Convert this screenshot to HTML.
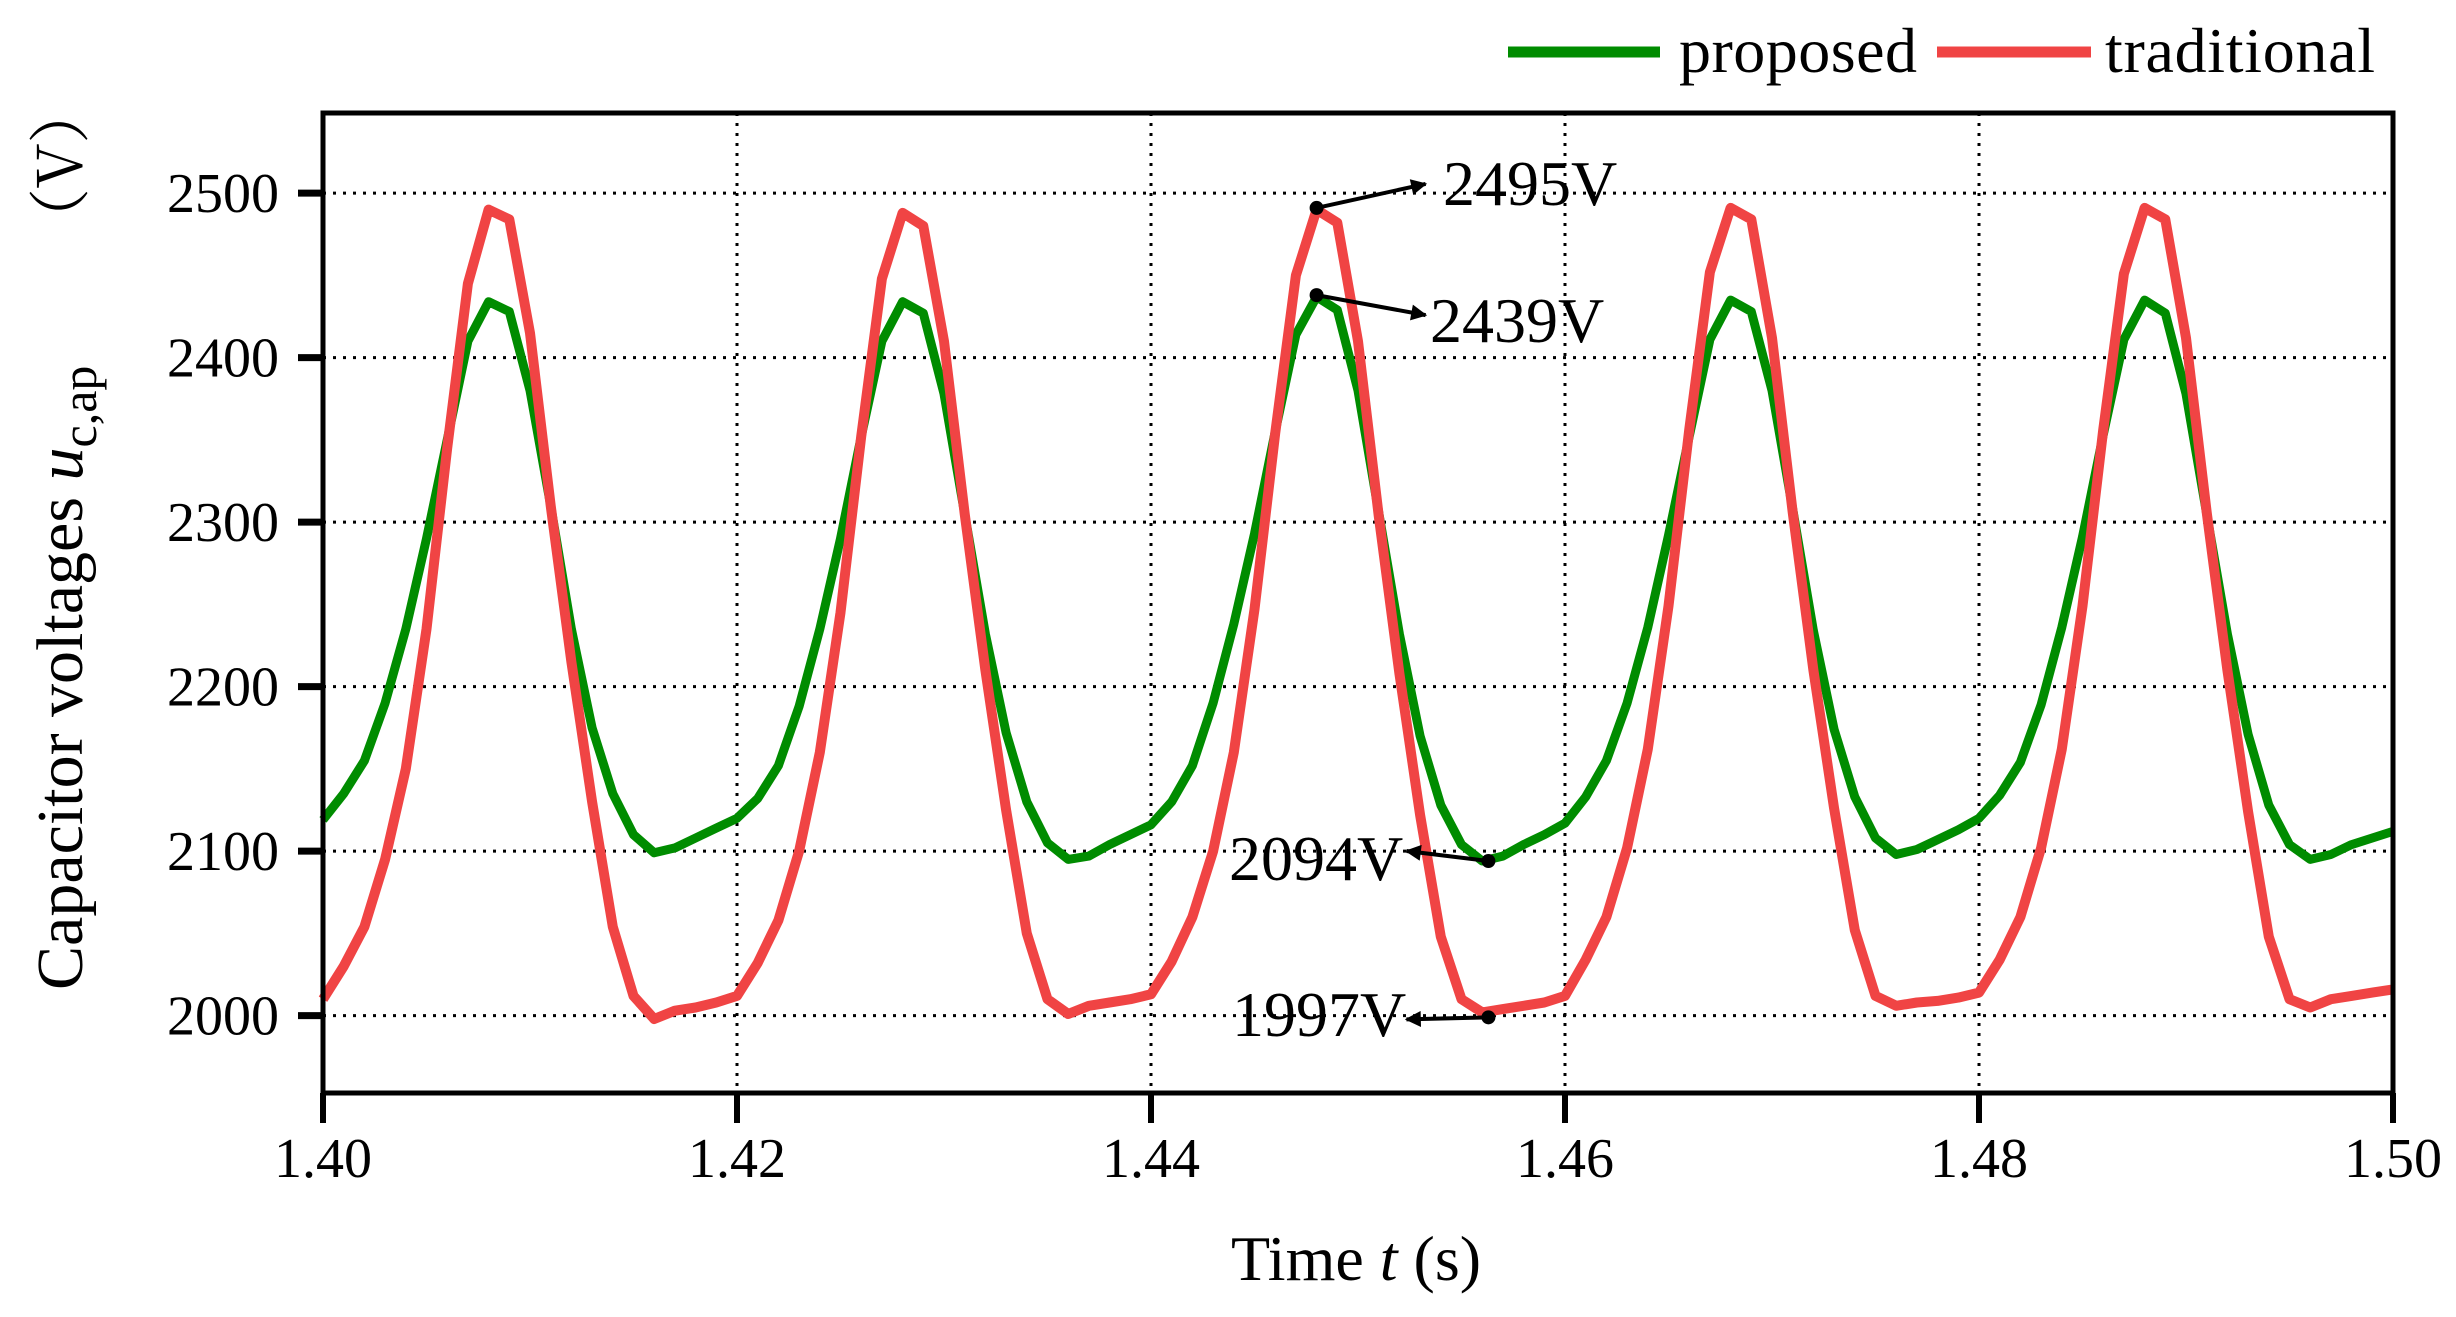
<!DOCTYPE html>
<html><head><meta charset="utf-8">
<style>
html,body{margin:0;padding:0;background:#fff;}
svg{display:block;font-family:"Liberation Serif","Noto Serif CJK SC",serif;}
</style></head>
<body>
<svg id="chart" width="2456" height="1317" viewBox="0 0 2456 1317" xmlns="http://www.w3.org/2000/svg">
<defs>
<marker id="ah" viewBox="0 0 10 10" refX="9" refY="5" markerWidth="5" markerHeight="4" orient="auto" markerUnits="strokeWidth"><path d="M0,0 L10,5 L0,10 z" fill="#000"/></marker>
</defs>
<g id="grid"></g>
<g id="series"></g>
<g id="axes"></g>
<g id="annot"></g>
<text x="1356" y="1280" font-size="64" text-anchor="middle">Time <tspan font-style="italic">t</tspan> (s)</text>
<text transform="translate(82,990) rotate(-90)" font-size="66">Capacitor voltages <tspan font-style="italic">u</tspan><tspan font-size="50" dy="14">c,ap</tspan></text>
<text transform="translate(82,250) rotate(-90)" font-size="62" font-family="Noto Serif CJK SC, serif">（V）</text>
<g>
<line x1="1508" y1="52" x2="1660" y2="52" stroke="#008c00" stroke-width="11"/>
<text x="1679" y="72" font-size="64" textLength="238">proposed</text>
<line x1="1937" y1="52" x2="2091" y2="52" stroke="#f04444" stroke-width="11"/>
<text x="2105" y="72" font-size="64" textLength="270">traditional</text>
</g>
</svg>
<script>
const xTicks = [1.40, 1.42, 1.44, 1.46, 1.48, 1.50];
const xTickLabels = ["1.40", "1.42", "1.44", "1.46", "1.48", "1.50"];
const yTicks = [2000, 2100, 2200, 2300, 2400, 2500];
const yTickLabels = ["2000", "2100", "2200", "2300", "2400", "2500"];
const tStart = 1.40;
const tStep = 0.001;
const proposed = [
2119,2135,2155,2190,2235,2290,2350,2410,2434,2428,2380,2310,2235,2175,2135,2110,2099,2102,2108,2114,
2120,2132,2152,2188,2235,2290,2352,2410,2434,2427,2378,2305,2232,2172,2130,2105,2095,2097,2104,2110,
2116,2130,2152,2190,2238,2293,2355,2414,2437,2429,2380,2306,2232,2170,2128,2104,2094,2097,2104,2110,
2117,2133,2155,2190,2236,2292,2352,2411,2435,2428,2380,2308,2234,2174,2133,2108,2098,2101,2107,2113,
2120,2134,2154,2189,2236,2291,2353,2411,2435,2427,2378,2305,2232,2171,2128,2104,2095,2098,2104,2108,2112];
const traditional = [
2010,2030,2054,2095,2150,2235,2345,2445,2490,2484,2415,2310,2215,2130,2054,2012,1998,2003,2005,2008,
2012,2032,2058,2100,2160,2245,2352,2448,2488,2480,2410,2305,2210,2125,2050,2010,2001,2006,2008,2010,
2013,2033,2060,2100,2160,2247,2354,2450,2490,2482,2410,2304,2208,2122,2048,2010,2002,2004,2006,2008,
2012,2034,2060,2102,2162,2249,2356,2452,2491,2484,2412,2306,2210,2126,2052,2012,2006,2008,2009,2011,
2014,2034,2060,2102,2162,2249,2356,2451,2491,2484,2412,2306,2210,2124,2048,2010,2005,2010,2012,2014,2016];
const annotations = [
  {t:1.448, v:2491, label:"2495V"},
  {t:1.448, v:2438, label:"2439V"},
  {t:1.4563, v:2094, label:"2094V"},
  {t:1.4563, v:1999, label:"1997V"}
];
const annOffsets = [[109,-24,1443,205],[109,20,1430,342],[-82,-10,1229,880],[-82,2,1232,1036]];

const PL=323, PR=2393, PT=113, PB=1093;
const X0=1.40, X1=1.50, Y0=1953, Y1=2548.7;
function sx(t){return PL+(t-X0)/(X1-X0)*(PR-PL);}
function sy(v){return PB-(v-Y0)/(Y1-Y0)*(PB-PT);}
const NS="http://www.w3.org/2000/svg";
function mk(tag,parent,attrs){const e=document.createElementNS(NS,tag);for(const k in attrs)e.setAttribute(k,attrs[k]);parent.appendChild(e);return e;}
const grid=document.getElementById('grid'), axes=document.getElementById('axes'), series=document.getElementById('series'), annot=document.getElementById('annot');

xTicks.forEach((t,i)=>{
  if(i>0&&i<xTicks.length-1){
    const g=mk('line',grid,{x1:sx(t),x2:sx(t),y1:PT,y2:PB,stroke:'#000','stroke-width':3,'stroke-dasharray':'3 7'});
    
    
  }
  const tk=mk('line',axes,{x1:sx(t),x2:sx(t),y1:PB,y2:PB+30,stroke:'#000','stroke-width':6});
  
  
  const lb=mk('text',axes,{x:sx(t),y:1177,'font-size':56,'text-anchor':'middle'});
  lb.textContent=xTickLabels[i];
  
  
});
yTicks.forEach((v,i)=>{
  const g=mk('line',grid,{x1:PL,x2:PR,y1:sy(v),y2:sy(v),stroke:'#000','stroke-width':3,'stroke-dasharray':'3 7'});
  
  
  const tk=mk('line',axes,{x1:PL-25,x2:PL,y1:sy(v),y2:sy(v),stroke:'#000','stroke-width':7});
  
  
  const lb=mk('text',axes,{x:279,y:sy(v)+19,'font-size':56,'text-anchor':'end'});
  lb.textContent=yTickLabels[i];
  
  
});
const frame=mk('rect',axes,{x:PL,y:PT,width:PR-PL,height:PB-PT,fill:'none',stroke:'#000','stroke-width':5});



function drawSeries(vals,color,w,name){
  const pts=vals.map((v,i)=>sx(tStart+i*tStep).toFixed(1)+','+sy(v).toFixed(1)).join(' ');
  const p=mk('polyline',series,{points:pts,fill:'none',stroke:color,'stroke-width':w,'stroke-linejoin':'round'});
  
  
}
drawSeries(proposed,'#008c00',9,'proposed-line');
drawSeries(traditional,'#f04444',10,'traditional-line');

annotations.forEach((a,i)=>{
  const x=sx(a.t), y=sy(a.v), o=annOffsets[i];
  const d=mk('circle',annot,{cx:x,cy:y,r:7,fill:'#000'});
  
  
  const l=mk('line',annot,{x1:x,y1:y,x2:x+o[0],y2:y+o[1],stroke:'#000','stroke-width':4,'marker-end':'url(#ah)'});
  
  
  const tx=mk('text',annot,{x:o[2],y:o[3],'font-size':64});
  tx.textContent=a.label;
  
  
});
</script>
</body></html>
